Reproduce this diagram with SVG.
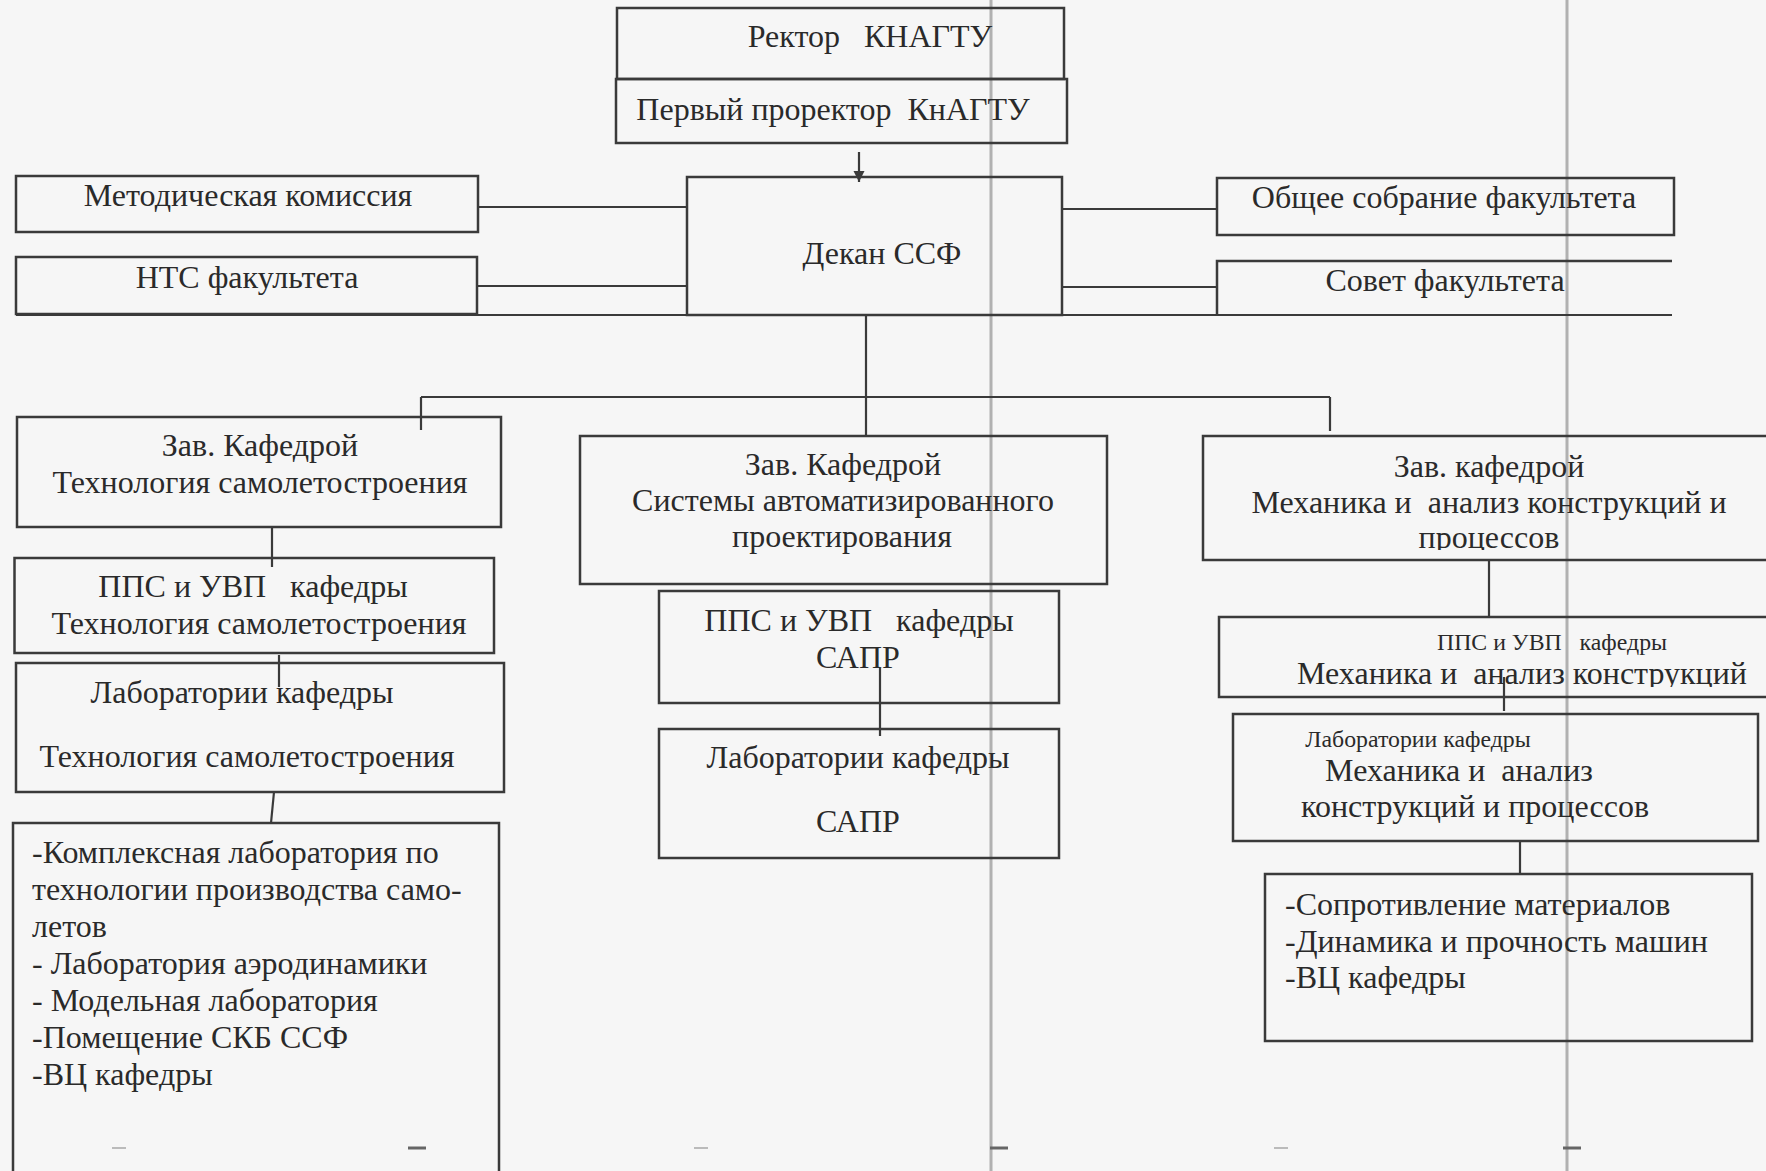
<svg xmlns="http://www.w3.org/2000/svg" width="1766" height="1171" viewBox="0 0 1766 1171">
<style>
.box{fill:none;stroke:#3a3a3a;stroke-width:2.5}
.ln{fill:none;stroke:#3a3a3a;stroke-width:2.2}
text{font-family:"Liberation Serif","Times New Roman",serif;fill:#2a2a2a;font-size:32px}
.c{text-anchor:middle}
.s{font-size:23.8px}
.scan{stroke:#9a9a9a;stroke-width:3;opacity:0.75}
</style>
<defs>
<marker id="arr" viewBox="0 0 10 10" refX="10" refY="5" markerWidth="11" markerHeight="13" markerUnits="userSpaceOnUse" orient="auto">
<path d="M0,0 L10,5 L0,10 Z" fill="#3a3a3a"/>
</marker>
<clipPath id="clipA"><rect x="1200" y="430" width="600" height="120"/></clipPath>
<clipPath id="clipB"><rect x="1200" y="610" width="600" height="77"/></clipPath>
</defs>
<rect x="0" y="0" width="1766" height="1171" fill="#f6f6f6"/>

<g id="scan-marks">
<line class="scan" x1="991" y1="0" x2="991" y2="1171"/>
<line class="scan" x1="1567" y1="0" x2="1567" y2="1171"/>
<path d="M408,1148 h18" stroke="#666" stroke-width="3"/>
<path d="M990,1148 h18" stroke="#666" stroke-width="3"/>
<path d="M1563,1148 h18" stroke="#666" stroke-width="3"/>
<path d="M112,1148 h14" stroke="#bbb" stroke-width="2"/>
<path d="M694,1148 h14" stroke="#bbb" stroke-width="2"/>
<path d="M1274,1148 h14" stroke="#bbb" stroke-width="2"/>
</g>

<g id="connectors">
<line class="ln" x1="859" y1="152" x2="859" y2="182" marker-end="url(#arr)"/>
<path class="ln" d="M478,207 H687"/>
<path class="ln" d="M477,286 H687"/>
<path class="ln" d="M1062,209 H1217"/>
<path class="ln" d="M1062,287 H1217"/>
<path class="ln" d="M16,315 H1672" stroke-width="2.5"/>
<path class="ln" d="M866,315 V436"/>
<path class="ln" d="M421,397 H1330"/>
<path class="ln" d="M421,397 V430"/>
<path class="ln" d="M1330,397 V431"/>
<path class="ln" d="M272,527 V567"/>
<path class="ln" d="M279,655 V687"/>
<path class="ln" d="M274,792 L271,823"/>
<path class="ln" d="M880,668 V736"/>
<path class="ln" d="M1489,560 V617"/>
<path class="ln" d="M1504,677 V711"/>
<path class="ln" d="M1520,841 V874"/>
</g>

<g id="n-rector">
<rect class="box" x="617" y="8" width="447" height="71"/>
<text class="c" x="870" y="47" xml:space="preserve">Ректор   КНАГТУ</text>
</g>
<g id="n-prorector">
<rect class="box" x="616" y="79" width="451" height="64"/>
<text class="c" x="833" y="120" xml:space="preserve">Первый проректор  КнАГТУ</text>
</g>
<g id="n-dean">
<rect class="box" x="687" y="177" width="375" height="138"/>
<text class="c" x="882" y="264">Декан ССФ</text>
</g>
<g id="n-metod">
<rect class="box" x="16" y="176" width="462" height="56"/>
<text class="c" x="248" y="206">Методическая комиссия</text>
</g>
<g id="n-nts">
<rect class="box" x="16" y="257" width="461" height="57"/>
<text class="c" x="247" y="288">НТС факультета</text>
</g>
<g id="n-obshee">
<rect class="box" x="1217" y="178" width="457" height="57"/>
<text class="c" x="1444" y="208">Общее собрание факультета</text>
</g>
<g id="n-sovet">
<path class="box" d="M1672,261 H1217 V316"/>
<text class="c" x="1445" y="291">Совет факультета</text>
</g>

<g id="n-zav-ts">
<rect class="box" x="17" y="417" width="484" height="110"/>
<text class="c" x="260" y="456">Зав. Кафедрой</text>
<text class="c" x="260" y="493">Технология самолетостроения</text>
</g>
<g id="n-pps-ts">
<rect class="box" x="14.5" y="558" width="479.5" height="95"/>
<text class="c" x="253" y="597" xml:space="preserve">ППС и УВП   кафедры</text>
<text class="c" x="259" y="634">Технология самолетостроения</text>
</g>
<g id="n-lab-ts">
<rect class="box" x="16" y="663" width="488" height="129"/>
<text class="c" x="242" y="703">Лаборатории кафедры</text>
<text class="c" x="247" y="767">Технология самолетостроения</text>
</g>
<g id="n-list-ts">
<path class="box" d="M13,1175 V823 H499 V1175"/>
<text x="32" y="863">-Комплексная лаборатория по</text>
<text x="32" y="900">технологии производства само-</text>
<text x="32" y="937">летов</text>
<text x="32" y="974">- Лаборатория аэродинамики</text>
<text x="32" y="1011">- Модельная лаборатория</text>
<text x="32" y="1048">-Помещение СКБ ССФ</text>
<text x="32" y="1085">-ВЦ кафедры</text>
</g>

<g id="n-zav-sapr">
<rect class="box" x="580" y="436" width="527" height="148"/>
<text class="c" x="843" y="475">Зав. Кафедрой</text>
<text class="c" x="843" y="511">Системы автоматизированного</text>
<text class="c" x="842" y="547">проектирования</text>
</g>
<g id="n-pps-sapr">
<rect class="box" x="659" y="591" width="400" height="112"/>
<text class="c" x="859" y="631" xml:space="preserve">ППС и УВП   кафедры</text>
<text class="c" x="858" y="668">САПР</text>
</g>
<g id="n-lab-sapr">
<rect class="box" x="659" y="729" width="400" height="129"/>
<text class="c" x="858" y="768">Лаборатории кафедры</text>
<text class="c" x="858" y="832">САПР</text>
</g>

<g id="n-zav-makp">
<rect class="box" x="1203" y="436" width="600" height="124"/>
<text class="c" x="1489" y="477">Зав. кафедрой</text>
<text class="c" x="1489" y="513" xml:space="preserve">Механика и  анализ конструкций и</text>
<text class="c" x="1489" y="548" clip-path="url(#clipA)">процессов</text>
</g>
<g id="n-pps-makp">
<rect class="box" x="1219" y="617" width="600" height="80"/>
<text class="c s" x="1552" y="650" xml:space="preserve">ППС и УВП   кафедры</text>
<text class="c" x="1522" y="684" clip-path="url(#clipB)" xml:space="preserve">Механика и  анализ конструкций</text>
</g>
<g id="n-lab-makp">
<rect class="box" x="1233" y="714" width="525" height="127"/>
<text class="c s" x="1418" y="747">Лаборатории кафедры</text>
<text class="c" x="1459" y="781" xml:space="preserve">Механика и  анализ</text>
<text class="c" x="1475" y="817">конструкций и процессов</text>
</g>
<g id="n-list-makp">
<rect class="box" x="1265" y="874" width="487" height="167"/>
<text x="1285" y="915">-Сопротивление материалов</text>
<text x="1285" y="952">-Динамика и прочность машин</text>
<text x="1285" y="988">-ВЦ кафедры</text>
</g>
</svg>
